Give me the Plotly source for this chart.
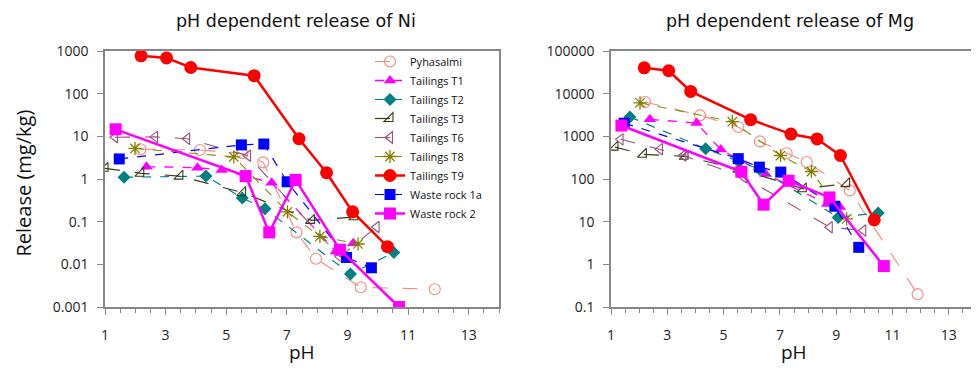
import plotly.graph_objects as go

# ---------------- data: Ni (left) ----------------
ni_pyh_ph = [2.17, 4.13, 5.53, 6.22, 7.32, 7.96, 9.44, 11.88]
ni_pyh = [5.0, 4.8, 4.0, 2.45, 0.056, 0.0135, 0.0029, 0.0026]
ni_t1_ph = [2.37, 4.05, 4.85, 6.5, 8.62, 9.19]
ni_t1 = [1.95, 1.84, 1.62, 0.82, 0.02, 0.031]
ni_t2_ph = [1.63, 4.33, 5.53, 6.28, 9.1, 10.53]
ni_t2 = [1.1, 1.17, 0.36, 0.2, 0.0059, 0.019]
ni_t3_ph = [1.0, 2.18, 3.47, 5.54, 7.81, 9.24]
ni_t3 = [1.78, 1.36, 1.17, 0.48, 0.107, 0.13]
ni_t6_ph = [1.33, 2.65, 3.71, 5.72, 8.75, 9.96]
ni_t6 = [9.5, 9.7, 8.8, 3.5, 0.015, 0.075]
ni_t8_ph = [1.99, 5.25, 7.02, 8.09, 9.35]
ni_t8 = [5.2, 3.3, 0.17, 0.045, 0.03]
ni_t9_ph = [2.19, 3.03, 3.83, 5.92, 7.40, 8.31, 9.17, 10.32]
ni_t9 = [770, 690, 410, 264, 8.8, 1.4, 0.17, 0.026]
ni_w1_ph = [1.47, 5.5, 6.24, 7.01, 8.97, 9.79]
ni_w1 = [2.95, 6.3, 6.6, 0.86, 0.0145, 0.0083]
ni_w2_ph = [1.35, 5.64, 6.42, 7.29, 8.75, 10.7]
ni_w2 = [14.6, 1.17, 0.056, 0.95, 0.022, 0.001]

# ---------------- data: Mg (right) ----------------
mg_pyh_ph = [2.21, 4.16, 5.52, 6.29, 7.24, 7.95, 9.48, 11.89]
mg_pyh = [6400, 3100, 1660, 760, 400, 250, 54, 0.2]
mg_t1_ph = [2.38, 4.04, 4.9, 6.49, 8.68, 9.13]
mg_t1 = [2500, 2050, 490, 131, 26, 22]
mg_t2_ph = [1.67, 4.36, 5.53, 6.28, 9.07, 10.49]
mg_t2 = [2850, 515, 260, 170, 12.6, 16]
mg_t3_ph = [1.14, 2.15, 3.63, 5.54, 7.83, 9.37]
mg_t3 = [560, 380, 340, 170, 59, 78]
mg_t6_ph = [1.34, 2.74, 3.57, 5.72, 8.77, 9.96]
mg_t6 = [850, 500, 355, 110, 7.4, 6.2]
mg_t8_ph = [2.03, 5.31, 7.02, 8.12, 9.37]
mg_t8 = [6100, 2200, 355, 150, 11.6]
mg_t9_ph = [2.18, 3.05, 3.83, 5.96, 7.39, 8.32, 9.15, 10.35]
mg_t9 = [40400, 34400, 11300, 2460, 1130, 870, 355, 11]
mg_w1_ph = [1.47, 5.52, 6.27, 7.03, 8.95, 9.8]
mg_w1 = [2030, 300, 190, 145, 23, 2.5]
mg_w2_ph = [1.37, 5.63, 6.42, 7.31, 8.76, 10.69]
mg_w2 = [1790, 148, 25, 91, 37, 0.91]

names = ["Pyhasalmi", "Tailings T1", "Tailings T2", "Tailings T3", "Tailings T6",
         "Tailings T8", "Tailings T9", "Waste rock 1a", "Waste rock 2"]

x_ticks = [1, 3, 5, 7, 9, 11, 13]
ni_ticks = [0.001, 0.01, 0.1, 1, 10, 100, 1000]
ni_ticklabels = ["0.001", "0.01", "0.1", "1", "10", "100", "1000"]
mg_ticks = [0.1, 1, 10, 100, 1000, 10000, 100000]
mg_ticklabels = ["0.1", "1", "10", "100", "1000", "10000", "100000"]

styles = [
    dict(line=dict(color="#F48A80", width=1.1, dash="longdash"),
         marker=dict(symbol="circle-open", size=11, color="#F48A80", line=dict(width=1.1))),
    dict(line=dict(color="#FF00FF", width=1.3, dash="dash"),
         marker=dict(symbol="triangle-up", size=11, color="#FF00FF")),
    dict(line=dict(color="#008080", width=1.2, dash="dash"),
         marker=dict(symbol="diamond", size=10, color="#008080")),
    dict(line=dict(color="#3A3A1A", width=1.2, dash="longdash"),
         marker=dict(symbol="triangle-se-open", size=10, color="#3A3A1A", line=dict(width=1.1))),
    dict(line=dict(color="#99507A", width=1.1, dash="longdash"),
         marker=dict(symbol="triangle-left-open", size=10, color="#99507A", line=dict(width=1.1))),
    dict(line=dict(color="#8C8C00", width=1.1, dash="dash"),
         marker=dict(symbol="asterisk-open", size=11, color="#808000", line=dict(width=1.3, color="#808000"))),
    dict(line=dict(color="#FF0000", width=2.5),
         marker=dict(symbol="circle", size=13, color="#FF0000")),
    dict(line=dict(color="#0000FF", width=1.2, dash="dash"),
         marker=dict(symbol="square", size=11, color="#0000FF")),
    dict(line=dict(color="#FF00FF", width=2.5),
         marker=dict(symbol="square", size=12, color="#FF00FF")),
]

ni_data = [(ni_pyh_ph, ni_pyh), (ni_t1_ph, ni_t1), (ni_t2_ph, ni_t2), (ni_t3_ph, ni_t3),
           (ni_t6_ph, ni_t6), (ni_t8_ph, ni_t8), (ni_t9_ph, ni_t9), (ni_w1_ph, ni_w1),
           (ni_w2_ph, ni_w2)]
mg_data = [(mg_pyh_ph, mg_pyh), (mg_t1_ph, mg_t1), (mg_t2_ph, mg_t2), (mg_t3_ph, mg_t3),
           (mg_t6_ph, mg_t6), (mg_t8_ph, mg_t8), (mg_t9_ph, mg_t9), (mg_w1_ph, mg_w1),
           (mg_w2_ph, mg_w2)]

fig = go.Figure()
for name, (xs, ys), st in zip(names, ni_data, styles):
    fig.add_trace(go.Scatter(x=xs, y=ys, name=name, mode="lines+markers",
                             xaxis="x", yaxis="y", showlegend=True, **st))
for name, (xs, ys), st in zip(names, mg_data, styles):
    fig.add_trace(go.Scatter(x=xs, y=ys, name=name, mode="lines+markers",
                             xaxis="x2", yaxis="y2", showlegend=False, **st))

W, H = 979, 377
OFF = 8  # page body margin offset

def px(x):
    return (x - OFF) / W

def py(y):
    return 1 - (y - OFF) / H

ydom = [py(307), py(51)]
axcol = "#878787"
tickfont = dict(family="Open Sans, Noto Sans, sans-serif", size=14, color="#222222")

xcommon = dict(range=[1, 14], tickvals=x_ticks, ticks="outside", ticklen=6, tickcolor=axcol,
               showline=True, linecolor=axcol, linewidth=1.5, mirror=True, showgrid=False,
               zeroline=False, tickfont=tickfont, ticklabelstandoff=8, automargin=False,
               minor=dict(dtick=0.5, tick0=1, ticks="outside", ticklen=4, tickcolor=axcol, showgrid=False))
ycommon = dict(type="log", ticks="outside", ticklen=6, tickcolor=axcol, showline=True,
               linecolor=axcol, linewidth=1.5, mirror=True, showgrid=False, zeroline=False,
               tickfont=tickfont, ticklabelstandoff=6, automargin=False)

fig.update_layout(
    width=W, height=H,
    margin=dict(l=0, r=0, t=0, b=0, pad=0, autoexpand=False),
    paper_bgcolor="white", plot_bgcolor="white",
    xaxis=dict(domain=[px(105), px(499)], anchor="y", **xcommon),
    yaxis=dict(domain=ydom, anchor="x", range=[-3, 3], tickvals=ni_ticks,
               ticktext=ni_ticklabels, **ycommon),
    xaxis2=dict(domain=[px(611), px(977)], anchor="y2", **xcommon),
    yaxis2=dict(domain=ydom, anchor="x2", range=[-1, 5], tickvals=mg_ticks,
                ticktext=mg_ticklabels, **ycommon),
    legend=dict(x=px(370), y=py(47), xanchor="left", yanchor="top",
                bgcolor="rgba(0,0,0,0)", borderwidth=0,
                font=dict(family="Open Sans, Noto Sans, sans-serif", size=11, color="#111111"),
                tracegroupgap=0, itemwidth=30),
    showlegend=True,
)

titlefont = dict(family="DejaVu Sans, Verdana, sans-serif", size=17.5, color="#111111")
fig.add_annotation(text="pH dependent release of Ni", x=px(296), y=py(21), xref="paper",
                   yref="paper", showarrow=False, font=titlefont, xanchor="center", yanchor="middle")
fig.add_annotation(text="pH dependent release of Mg", x=px(790), y=py(21), xref="paper",
                   yref="paper", showarrow=False, font=titlefont, xanchor="center", yanchor="middle")
labfont = dict(family="Open Sans, Noto Sans, sans-serif", size=19, color="#111111")
fig.add_annotation(text="pH", x=px(302), y=py(352), xref="paper", yref="paper",
                   showarrow=False, font=labfont, xanchor="center", yanchor="middle")
fig.add_annotation(text="pH", x=px(794), y=py(352), xref="paper", yref="paper",
                   showarrow=False, font=labfont, xanchor="center", yanchor="middle")
fig.add_annotation(text="Release (mg/kg)", x=0, y=py(183), xref="paper", yref="paper",
                   showarrow=False, font=dict(family="Open Sans, Noto Sans, sans-serif", size=20,
                                              color="#111111"),
                   textangle=-90, xanchor="left", yanchor="middle", borderpad=0)

fig.write_html("out.html")
